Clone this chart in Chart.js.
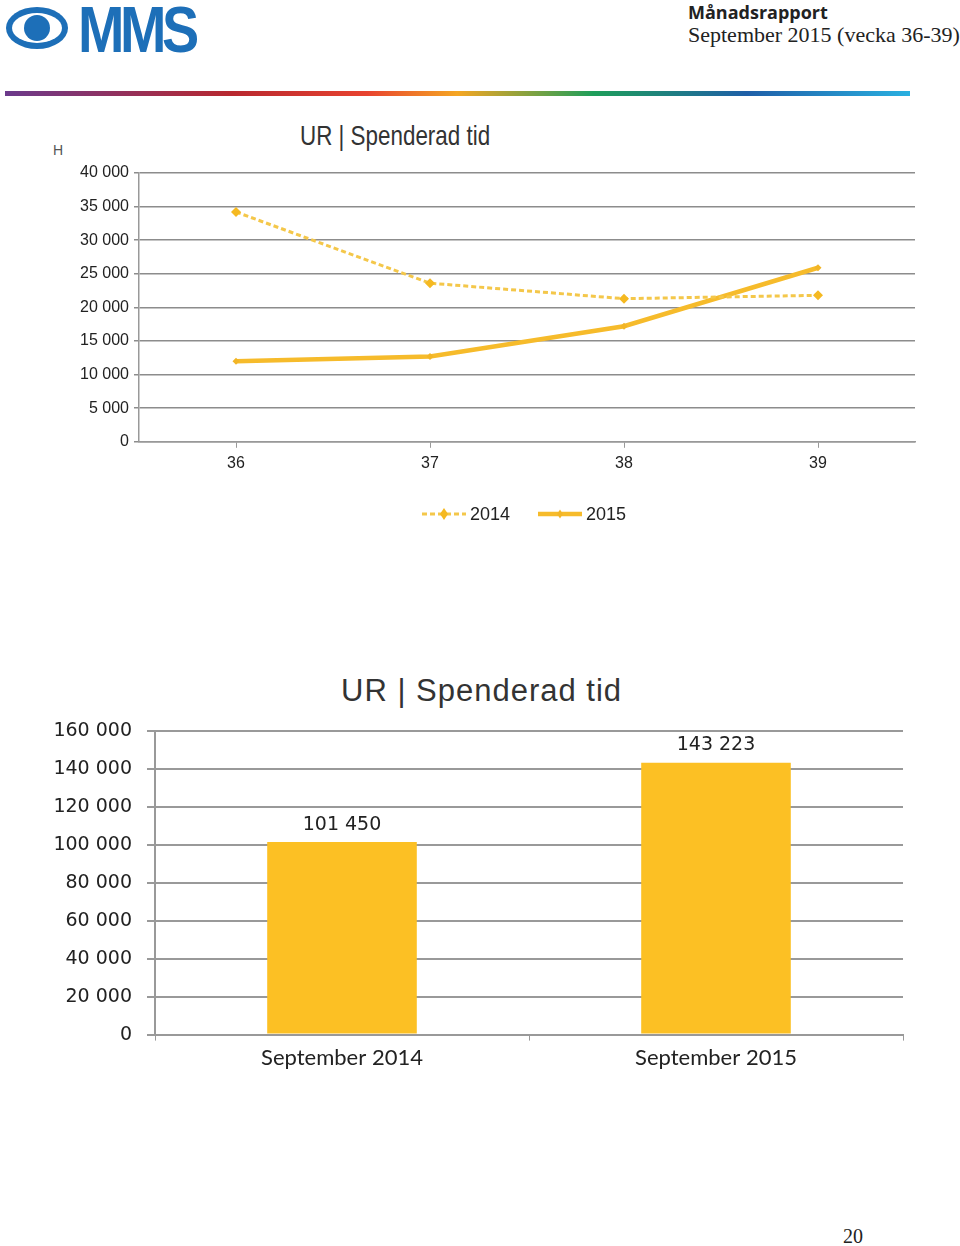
<!DOCTYPE html>
<html>
<head>
<meta charset="utf-8">
<script src="https://cdn.jsdelivr.net/npm/chart.js@4"></script>
<style>
  body { margin: 0; width: 960px; height: 1246px; background: #fff; position: relative; overflow: hidden; }
  .abs { position: absolute; }
  #lineWrap { position: absolute; left: 0; top: 150px; width: 930px; height: 390px; }
  #barWrap { position: absolute; left: 0; top: 700px; width: 930px; height: 380px; }
  .t1 { font-family: "Liberation Sans", Arial, sans-serif; font-size: 28px; color: #333; transform: scaleX(0.8); transform-origin: left top; }
  .t2 { font-family: "Liberation Sans", Arial, sans-serif; font-size: 31px; color: #333; letter-spacing: 1px; }
</style>
</head>
<body>
<svg class="abs" style="left:4px;top:3px" width="215" height="52">
  <ellipse cx="33" cy="25" rx="31" ry="21" fill="#1d6fb8"/>
  <ellipse cx="33" cy="25" rx="25" ry="15" fill="#fff"/>
  <circle cx="33" cy="25" r="13" fill="#1d6fb8"/>
  <text x="74" y="49" font-family="Liberation Sans, Arial" font-weight="bold" font-size="62" fill="#1d6fb8" letter-spacing="-5" transform="translate(74 0) scale(0.9 1.05) translate(-74 -2)">MMS</text>
</svg>
<div class="abs" style="left:688px;top:0px;font-family:'Open Sans',sans-serif;font-weight:bold;font-size:18px;color:#222">Månadsrapport</div>
<div class="abs" style="left:688px;top:22px;font-family:'Liberation Serif',serif;font-size:22px;color:#222">September 2015 (vecka 36-39)</div>
<div class="abs" style="left:5px;top:91px;width:905px;height:5px;background:linear-gradient(to right,#6b3a8c,#b8282f 25%,#e8432f 40%,#f5a623 50%,#1e9e5a 65%,#1f5fa8 82%,#2ab0e0)"></div>
<div class="abs" style="left:53px;top:142px;font-family:'Liberation Sans',Arial,sans-serif;font-size:14px;color:#555">H</div>
<div class="abs t1" style="left:300px;top:120px">UR | Spenderad tid</div>
<div id="lineWrap"><canvas id="lineChart"></canvas></div>
<div class="abs t2" style="left:341px;top:673px">UR | Spenderad tid</div>
<div id="barWrap"><canvas id="barChart"></canvas></div>
<div class="abs" style="left:843px;top:1225px;font-family:'Liberation Serif',serif;font-size:20px;color:#222">20</div>
<script>
const weeks = ["36", "37", "38", "39"];
const series2014 = [34200, 23600, 21300, 21800];
const series2015 = [12000, 12700, 17200, 25900];
const barLabels = ["September 2014", "September 2015"];
const barValues = [101450, 143223];

const sans = "'Liberation Sans', Arial, sans-serif";

function spaced(v) {
  return String(v).replace(/\B(?=(\d{3})+(?!\d))/g, " ");
}

// legend drawn under the line chart, using the datasets' own styles
const lineLegend = {
  id: "lineLegend",
  afterDraw(chart) {
    const ctx = chart.ctx;
    const y = 364;
    const starts = [422, 538];
    chart.data.datasets.forEach((ds, i) => {
      const x = starts[i];
      ctx.save();
      ctx.strokeStyle = ds.borderColor;
      ctx.lineWidth = ds.borderWidth;
      ctx.setLineDash(ds.borderDash || []);
      ctx.beginPath();
      ctx.moveTo(x, y);
      ctx.lineTo(x + 44, y);
      ctx.stroke();
      ctx.setLineDash([]);
      ctx.fillStyle = ds.pointBackgroundColor;
      ctx.beginPath();
      const r = ds.pointRadius;
      ctx.moveTo(x + 22, y - r - 1);
      ctx.lineTo(x + 22 + r * 0.8, y);
      ctx.lineTo(x + 22, y + r + 1);
      ctx.lineTo(x + 22 - r * 0.8, y);
      ctx.closePath();
      ctx.fill();
      ctx.fillStyle = "#222";
      ctx.font = "18px " + sans;
      ctx.textBaseline = "middle";
      ctx.fillText(ds.label, x + 48, y + 1);
      ctx.restore();
    });
  }
};

new Chart(document.getElementById("lineChart"), {
  type: "line",
  data: {
    labels: weeks,
    datasets: [
      {
        label: "2014",
        data: series2014,
        borderColor: "#f4c74a",
        borderWidth: 3,
        borderDash: [5, 3],
        pointStyle: "rectRot",
        pointRadius: 5,
        pointBackgroundColor: "#f5b921",
        pointBorderWidth: 0
      },
      {
        label: "2015",
        data: series2015,
        borderColor: "#f6bb2b",
        borderWidth: 4.5,
        pointStyle: "rectRot",
        pointRadius: 3.5,
        pointBackgroundColor: "#f2b526",
        pointBorderWidth: 0
      }
    ]
  },
  plugins: [lineLegend],
  options: {
    responsive: true,
    maintainAspectRatio: false,
    animation: false,
    layout: { padding: { top: 23, right: 15, bottom: 61 } },
    plugins: { legend: { display: false }, tooltip: { enabled: false } },
    scales: {
      x: {
        offset: true,
        grid: { drawOnChartArea: false, color: "#999", tickLength: 6 },
        border: { color: "#999", width: 1.5 },
        ticks: { color: "#222", font: { family: sans, size: 16 }, padding: 6 }
      },
      y: {
        min: 0,
        max: 40000,
        afterFit(scale) { scale.width = 139; },
        grid: { color: "#8c8c8c", lineWidth: 1.5, tickLength: 5 },
        border: { color: "#999", width: 1.5 },
        ticks: {
          stepSize: 5000,
          color: "#222",
          padding: 5,
          font: { family: sans, size: 16 },
          callback: v => spaced(v)
        }
      }
    }
  }
});

const barValueLabels = {
  id: "barValueLabels",
  afterDatasetsDraw(chart) {
    const ctx = chart.ctx;
    const meta = chart.getDatasetMeta(0);
    ctx.save();
    ctx.fillStyle = "#222";
    ctx.font = "19px 'DejaVu Sans', Verdana, sans-serif";
    ctx.textAlign = "center";
    ctx.textBaseline = "bottom";
    meta.data.forEach((bar, i) => {
      ctx.fillText(spaced(chart.data.datasets[0].data[i]), bar.x, bar.y - 8);
    });
    ctx.restore();
  }
};

new Chart(document.getElementById("barChart"), {
  type: "bar",
  data: {
    labels: barLabels,
    datasets: [{
      data: barValues,
      backgroundColor: "#fcc024",
      categoryPercentage: 0.8,
      barPercentage: 0.5
    }]
  },
  plugins: [barValueLabels],
  options: {
    responsive: true,
    maintainAspectRatio: false,
    animation: false,
    layout: { padding: { top: 31, right: 27, bottom: 5 } },
    plugins: { legend: { display: false }, tooltip: { enabled: false } },
    scales: {
      x: {
        grid: { drawOnChartArea: false, offset: true, color: "#999", tickLength: 6 },
        border: { color: "#999", width: 2 },
        ticks: { color: "#222", font: { family: "Lato, 'Open Sans', sans-serif", size: 22 }, padding: 4 }
      },
      y: {
        min: 0,
        max: 160000,
        afterFit(scale) { scale.width = 155; },
        grid: { color: "#999", lineWidth: 2, tickLength: 8 },
        border: { color: "#999", width: 2 },
        ticks: {
          stepSize: 20000,
          color: "#222",
          padding: 15,
          font: { family: "'DejaVu Sans', Verdana, sans-serif", size: 19 },
          callback: v => spaced(v)
        }
      }
    }
  }
});
</script>
</body>
</html>
